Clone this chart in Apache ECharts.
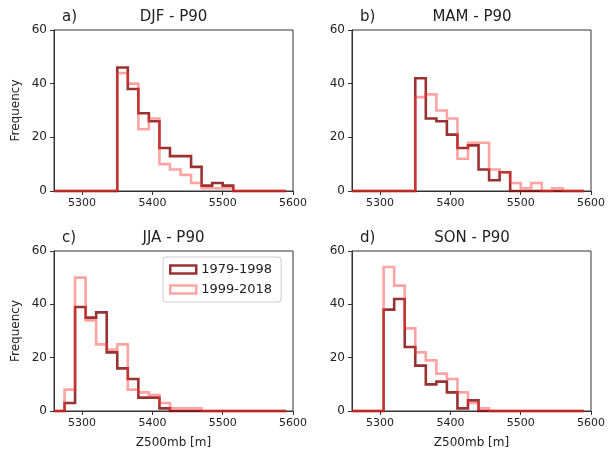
<!DOCTYPE html>
<html>
<head>
<meta charset="utf-8">
<script src="https://cdn.jsdelivr.net/npm/echarts@6/dist/echarts.min.js"></script>
<style>
html,body{margin:0;padding:0;background:#fff;}
#chart{width:608px;height:453px;}
</style>
</head>
<body>
<div id="chart"></div>
<script>
// Histogram bin edges (Z500mb, m)
const binEdges = [5260,5275,5290,5305,5320,5335,5350,5365,5380,5395,5410,5425,5440,5455,5470,5485,5500,5515,5530,5545,5560,5575,5590];
const xTickValues = [5300, 5400, 5500, 5600];
const seasons = ['DJF - P90', 'MAM - P90', 'JJA - P90', 'SON - P90'];
const panelLetters = ['a)', 'b)', 'c)', 'd)'];
const periodNames = ['1979-1998', '1999-2018'];

// Frequencies per bin
const djf1979 = [0,0,0,0,0,0,46,38,29,26,16,13,13,9,2,3,2,0,0,0,0,0];
const djf1999 = [0,0,0,0,0,0,44,40,23,27,10,8,6,3,1,1,1,0,0,0,0,0];
const mam1979 = [0,0,0,0,0,0,42,27,26,21,16,17,8,4,7,0,0,0,0,0,0,0];
const mam1999 = [0,0,0,0,0,0,35,36,30,27,12,18,18,8,7,3,1,3,0,1,0,0];
const jja1979 = [0,3,39,35,37,22,16,12,5,5,1,0,0,0,0,0,0,0,0,0,0,0];
const jja1999 = [0,8,50,34,25,23,25,8,7,6,3,1,1,1,0,0,0,0,0,0,0,0];
const son1979 = [0,0,0,38,42,24,17,10,11,7,1,4,0,0,0,0,0,0,0,0,0,0];
const son1999 = [0,0,0,54,47,31,22,19,14,12,7,3,1,0,0,0,0,0,0,0,0,0];

const panelData = [[djf1979, djf1999],[mam1979, mam1999],[jja1979, jja1999],[son1979, son1999]];

const colors = ['rgba(135,15,15,0.85)', 'rgba(255,50,50,0.45)'];
const FONT = 'DejaVu Sans';

const grids = [
  {left: 54, top: 30, width: 239, height: 161},
  {left: 352, top: 30, width: 240, height: 161},
  {left: 54, top: 251, width: 239, height: 160},
  {left: 352, top: 251, width: 240, height: 160}
];

function stepPoints(vals) {
  const pts = [[binEdges[0], 0]];
  for (let i = 0; i < vals.length; i++) {
    pts.push([binEdges[i], vals[i]]);
    pts.push([binEdges[i + 1], vals[i]]);
  }
  pts.push([binEdges[binEdges.length - 1], 0]);
  return pts;
}

const option = {
  animation: false,
  backgroundColor: '#fff',
  textStyle: {fontFamily: FONT},
  title: [],
  grid: grids.map(g => Object.assign({show: true, borderColor: '#333', borderWidth: 1, backgroundColor: 'transparent'}, g)),
  xAxis: [],
  yAxis: [],
  series: [],
  legend: {
    orient: 'vertical',
    left: 163, top: 257,
    padding: [6, 9, 6, 6],
    itemGap: 7,
    itemWidth: 26, itemHeight: 8,
    backgroundColor: '#fff',
    borderColor: '#cccccc', borderWidth: 1, borderRadius: 3,
    textStyle: {fontFamily: FONT, fontSize: 13, color: '#222'},
    data: periodNames.map((n, k) => ({
      name: n, icon: 'rect',
      itemStyle: {color: 'transparent', borderColor: colors[k], borderWidth: 2.5}
    }))
  }
};

grids.forEach((g, i) => {
  option.title.push({
    text: panelLetters[i], left: g.left + 8, top: g.top - 20, padding: 0,
    textStyle: {fontFamily: FONT, fontSize: 15, fontWeight: 'normal', color: '#222'}
  });
  option.title.push({
    text: seasons[i], left: g.left + g.width / 2, top: g.top - 20, padding: 0, textAlign: 'center',
    textStyle: {fontFamily: FONT, fontSize: 15, fontWeight: 'normal', color: '#222'}
  });
  const bottomRow = i >= 2;
  option.xAxis.push({
    type: 'value', gridIndex: i, min: 5260, max: 5600,
    name: bottomRow ? 'Z500mb [m]' : '', nameLocation: 'middle', nameGap: 26,
    nameTextStyle: {fontFamily: FONT, fontSize: 12, color: '#222'},
    axisLine: {show: true, onZero: false, lineStyle: {color: '#333', width: 1}},
    axisTick: {show: true, length: 4, lineStyle: {color: '#333'}, customValues: xTickValues},
    axisLabel: {show: true, margin: 7, fontFamily: FONT, fontSize: 11, color: '#222',
      customValues: xTickValues, formatter: v => String(v)},
    splitLine: {show: false}
  });
  const leftCol = i % 2 === 0;
  option.yAxis.push({
    type: 'value', gridIndex: i, min: 0, max: 60, interval: 20,
    name: leftCol ? 'Frequency' : '', nameLocation: 'middle', nameGap: 32,
    nameTextStyle: {fontFamily: FONT, fontSize: 12, color: '#222'},
    axisLine: {show: true, lineStyle: {color: '#333', width: 1}},
    axisTick: {show: true, length: 4, lineStyle: {color: '#333'}},
    axisLabel: {show: true, margin: 7, fontFamily: FONT, fontSize: 12, color: '#222'},
    splitLine: {show: false}
  });
  panelData[i].forEach((vals, k) => {
    option.series.push({
      type: 'line', name: periodNames[k], xAxisIndex: i, yAxisIndex: i,
      data: stepPoints(vals), showSymbol: false, symbol: 'none',
      clip: false,
      lineStyle: {color: colors[k], width: 2.6, join: 'miter'},
      itemStyle: {color: colors[k]},
      z: 2 + k
    });
  });
});

const chart = echarts.init(document.getElementById('chart'), null, {renderer: 'canvas'});
chart.setOption(option);
</script>
</body>
</html>
